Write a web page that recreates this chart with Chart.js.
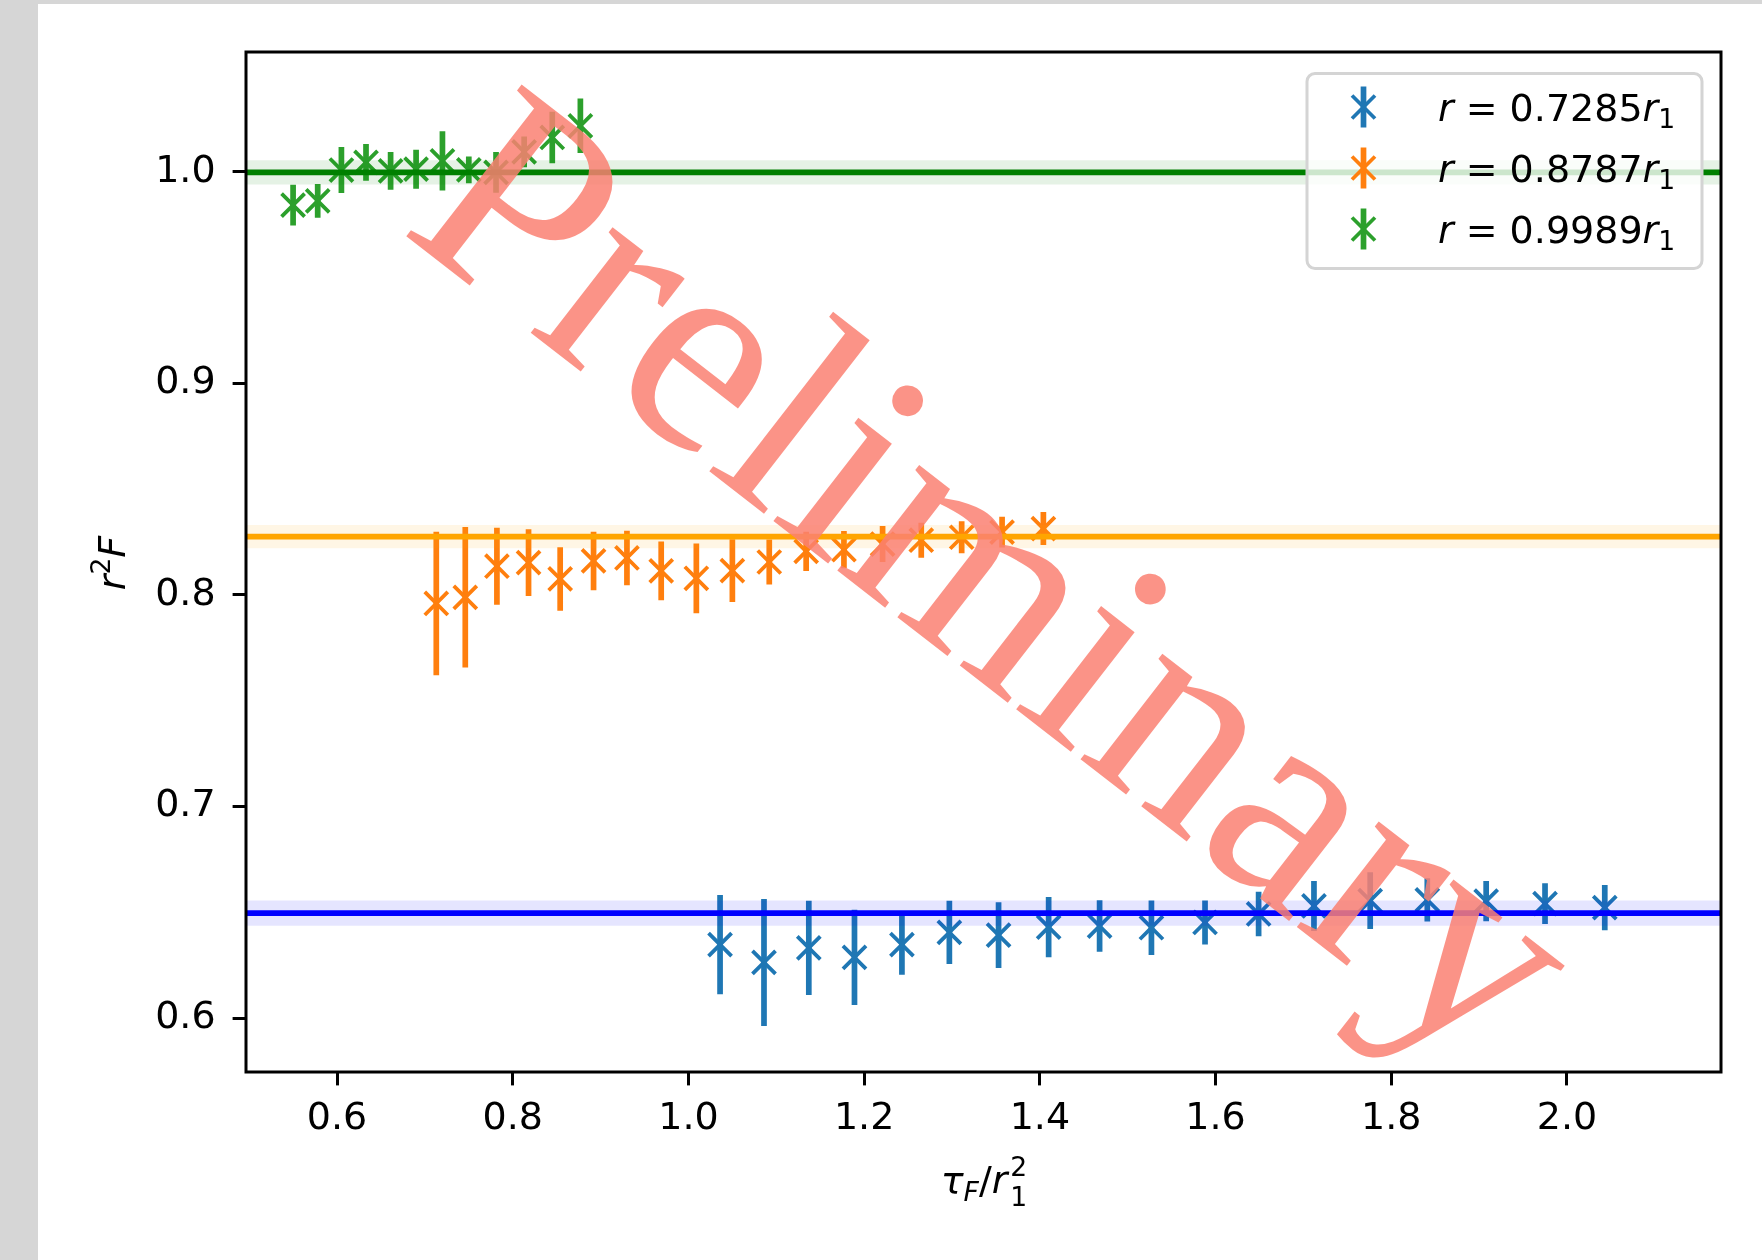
<!DOCTYPE html>
<html>
<head>
<meta charset="utf-8">
<script src="https://cdn.jsdelivr.net/npm/chart.js@4.4.1/dist/chart.umd.min.js"></script>
<style>
  html, body { margin: 0; padding: 0; background: #d6d6d6; }
  #wrap { position: relative; width: 1762px; height: 1260px; overflow: hidden; }
  #paper { position: absolute; left: 38px; top: 4px; right: 0; bottom: 0; background: #ffffff; }
  #c { position: absolute; left: 0; top: 0; }
  #ov { position: absolute; left: 0; top: 0; pointer-events: none; }
  text { font-family: "DejaVu Sans", sans-serif; }
</style>
</head>
<body>
<div id="wrap">
  <div id="paper"></div>
  <canvas id="c" width="1762" height="1260"></canvas>
  <svg id="ov" width="1762" height="1260" xmlns="http://www.w3.org/2000/svg"></svg>
</div>
<script>
// ---------------- data ----------------
const xLimits = [0.4964, 2.1753];
const yLimits = [0.5745, 1.0567];
const xTicks = [0.6, 0.8, 1.0, 1.2, 1.4, 1.6, 1.8, 2.0];
const yTicks = [0.6, 0.7, 0.8, 0.9, 1.0];

const seriesRadii = ['0.7285', '0.8787', '0.9989'];
const seriesColors = ['#1f77b4', '#ff7f0e', '#2ca02c'];

const blueX = [1.036, 1.086, 1.137, 1.189, 1.243, 1.297, 1.353, 1.410, 1.468, 1.527, 1.588, 1.649, 1.712, 1.776, 1.841, 1.908, 1.975, 2.043];
const blueY = [0.6347, 0.6263, 0.6332, 0.6287, 0.6347, 0.6405, 0.6392, 0.6430, 0.6435, 0.6427, 0.6452, 0.6492, 0.6530, 0.6555, 0.6559, 0.6553, 0.6541, 0.6522];
const blueErr = [0.0235, 0.0300, 0.0223, 0.0225, 0.0142, 0.0150, 0.0155, 0.0142, 0.0122, 0.0129, 0.0104, 0.0105, 0.0118, 0.0134, 0.0102, 0.0095, 0.0096, 0.0107];

const orangeX = [0.713, 0.746, 0.782, 0.818, 0.854, 0.892, 0.930, 0.969, 1.009, 1.050, 1.092, 1.134, 1.177, 1.221, 1.265, 1.311, 1.357, 1.404];
const orangeY = [0.7960, 0.7989, 0.8136, 0.8153, 0.8076, 0.8161, 0.8175, 0.8114, 0.8079, 0.8115, 0.8156, 0.8206, 0.8214, 0.8241, 0.8259, 0.8273, 0.8297, 0.8314];
const orangeErr = [0.0339, 0.0332, 0.0182, 0.0158, 0.0150, 0.0138, 0.0129, 0.0139, 0.0165, 0.0148, 0.0106, 0.0093, 0.0088, 0.0085, 0.0083, 0.0076, 0.0073, 0.0078];

const greenX = [0.550, 0.578, 0.605, 0.633, 0.661, 0.690, 0.720, 0.750, 0.781, 0.813, 0.845, 0.877];
const greenY = [0.9843, 0.9863, 1.0009, 1.0045, 1.0005, 1.0013, 1.0052, 1.0010, 0.9998, 1.0095, 1.0163, 1.0218];
const greenErr = [0.0096, 0.0080, 0.0109, 0.0087, 0.0089, 0.0092, 0.0140, 0.0063, 0.0096, 0.0073, 0.0122, 0.0129];

const fitValues = [0.6496, 0.8276, 0.9998];
const fitErrors = [0.0060, 0.0055, 0.0057];
const fitColors = ['#0000ff', '#ffa500', '#008000'];
const fitBandColors = ['rgba(0,0,255,0.1)', 'rgba(255,165,0,0.1)', 'rgba(0,128,0,0.1)'];

const watermarkText = 'Preliminary';

// ---------------- build datasets ----------------
const toPts = (xs, ys) => xs.map((x, i) => ({ x: x, y: ys[i] }));
const pointSets = [
  { xs: blueX, ys: blueY, es: blueErr },
  { xs: orangeX, ys: orangeY, es: orangeErr },
  { xs: greenX, ys: greenY, es: greenErr }
];

const datasets = [];
pointSets.forEach((s, k) => {
  datasets.push({
    type: 'scatter',
    label: 'r = ' + seriesRadii[k] + 'r1',
    data: toPts(s.xs, s.ys),
    errors: s.es,
    borderColor: seriesColors[k],
    backgroundColor: seriesColors[k],
    pointStyle: 'crossRot',
    pointRadius: 16.3,
    pointHoverRadius: 16.3,
    pointBorderWidth: 3.8,
    showLine: false,
    order: 10 - k
  });
});
fitValues.forEach((v, k) => {
  datasets.push({
    type: 'line',
    data: [{ x: xLimits[0], y: v - fitErrors[k] }, { x: xLimits[1], y: v - fitErrors[k] }],
    borderWidth: 0, borderColor: 'rgba(0,0,0,0)', pointRadius: 0, fill: false, order: 5
  });
  datasets.push({
    type: 'line',
    data: [{ x: xLimits[0], y: v + fitErrors[k] }, { x: xLimits[1], y: v + fitErrors[k] }],
    borderWidth: 0, borderColor: 'rgba(0,0,0,0)', pointRadius: 0,
    fill: '-1', backgroundColor: fitBandColors[k], order: 5
  });
});
fitValues.forEach((v, k) => {
  datasets.push({
    type: 'line',
    data: [{ x: xLimits[0], y: v }, { x: xLimits[1], y: v }],
    borderWidth: 5.7, borderColor: fitColors[k], pointRadius: 0, fill: false, order: 1,
    borderCapStyle: 'butt'
  });
});

// ---------------- plugins ----------------
const errorBarPlugin = {
  id: 'errorBars',
  beforeDatasetDraw(chart, args) {
    const ds = chart.data.datasets[args.index];
    if (!ds.errors) return;
    const xs = chart.scales.x, ys = chart.scales.y, ctx = chart.ctx, a = chart.chartArea;
    ctx.save();
    ctx.beginPath();
    ctx.rect(a.left, a.top, a.right - a.left, a.bottom - a.top);
    ctx.clip();
    ctx.strokeStyle = ds.borderColor;
    ctx.lineWidth = 5.7;
    ctx.lineCap = 'butt';
    ctx.beginPath();
    ds.data.forEach((p, i) => {
      const px = xs.getPixelForValue(p.x);
      ctx.moveTo(px, ys.getPixelForValue(p.y - ds.errors[i]));
      ctx.lineTo(px, ys.getPixelForValue(p.y + ds.errors[i]));
    });
    ctx.stroke();
    ctx.restore();
  }
};
const framePlugin = {
  id: 'frame',
  afterDatasetsDraw(chart) {
    const a = chart.chartArea, ctx = chart.ctx;
    ctx.save();
    ctx.strokeStyle = '#000';
    ctx.lineWidth = 3;
    ctx.strokeRect(a.left, a.top, a.right - a.left, a.bottom - a.top);
    ctx.restore();
  }
};

Chart.defaults.font.family = '"DejaVu Sans", sans-serif';

const chart = new Chart(document.getElementById('c'), {
  type: 'scatter',
  data: { datasets: datasets },
  options: {
    responsive: false,
    animation: false,
    devicePixelRatio: 1,
    events: [],
    layout: { padding: { left: 38, top: 52, right: 41, bottom: 0 } },
    plugins: { legend: { display: false }, tooltip: { enabled: false } },
    scales: {
      x: {
        type: 'linear', min: xLimits[0], max: xLimits[1],
        afterBuildTicks: s => { s.ticks = xTicks.map(v => ({ value: v })); },
        afterFit: s => { s.height = 1260 - 1072; },
        ticks: { color: '#000', font: { size: 38 }, padding: 11, maxRotation: 0, autoSkip: false,
                 callback: v => Number(v).toFixed(1) },
        grid: { display: true, drawOnChartArea: false, drawTicks: true, tickLength: 13.4, tickWidth: 3, color: '#000' },
        border: { display: false }
      },
      y: {
        type: 'linear', min: yLimits[0], max: yLimits[1],
        afterBuildTicks: s => { s.ticks = yTicks.map(v => ({ value: v })); },
        afterFit: s => { s.width = 246 - 38; },
        ticks: { color: '#000', font: { size: 38 }, padding: 17, autoSkip: false,
                 callback: v => Number(v).toFixed(1) },
        grid: { display: true, drawOnChartArea: false, drawTicks: true, tickLength: 13.4, tickWidth: 3, color: '#000' },
        border: { display: false }
      }
    }
  },
  plugins: [errorBarPlugin, framePlugin]
});

// ---------------- SVG overlay: axis titles, legend, watermark ----------------
const NS = 'http://www.w3.org/2000/svg';
const ov = document.getElementById('ov');
function el(tag, attrs, parent) {
  const e = document.createElementNS(NS, tag);
  for (const k in attrs) e.setAttribute(k, attrs[k]);
  (parent || ov).appendChild(e);
  return e;
}
function tspan(parent, txt, attrs) {
  const t = el('tspan', attrs || {}, parent);
  t.textContent = txt;
  return t;
}

// x axis title: tau_F / r_1^2
const xt = el('text', { x: 984, y: 1193, 'text-anchor': 'middle', 'font-size': 38, fill: '#000' });
tspan(xt, 'τ', { 'font-style': 'italic' });
tspan(xt, 'F', { 'font-style': 'italic', 'font-size': 26.6, dy: 8.4 });
tspan(xt, '/', { dy: -8.4 });
tspan(xt, 'r', { 'font-style': 'italic' });
tspan(xt, '1', { 'font-size': 26.6, dy: 12.7, dx: 3 });
tspan(xt, '2', { 'font-size': 26.6, dx: -16.9, dy: -29.3 });

// y axis title: r^2 F
const yt = el('text', { transform: 'translate(125,563) rotate(-90)', 'text-anchor': 'middle', 'font-size': 38, fill: '#000' });
tspan(yt, 'r', { 'font-style': 'italic' });
tspan(yt, '2', { 'font-size': 26.6, dy: -15 });
tspan(yt, 'F', { 'font-style': 'italic', dy: 15 });

// legend
const lg = el('g', {});
el('rect', { x: 1307, y: 73.5, width: 395, height: 195, rx: 8, ry: 8,
             fill: 'rgba(255,255,255,0.8)', stroke: '#d4d4d4', 'stroke-width': 3 }, lg);
const rowY = [107, 168, 229];
seriesRadii.forEach((r, k) => {
  const cx = 1363.5, cy = rowY[k], c = seriesColors[k];
  el('line', { x1: cx, y1: cy - 20.5, x2: cx, y2: cy + 20.5, stroke: c, 'stroke-width': 5.7 }, lg);
  el('line', { x1: cx - 11.5, y1: cy - 11.5, x2: cx + 11.5, y2: cy + 11.5, stroke: c, 'stroke-width': 3.8 }, lg);
  el('line', { x1: cx - 11.5, y1: cy + 11.5, x2: cx + 11.5, y2: cy - 11.5, stroke: c, 'stroke-width': 3.8 }, lg);
  const t = el('text', { x: 1438, y: cy + 13.7, 'font-size': 38, fill: '#000' }, lg);
  tspan(t, 'r', { 'font-style': 'italic' });
  tspan(t, ' = ' + r);
  tspan(t, 'r', { 'font-style': 'italic' });
  tspan(t, '1', { 'font-size': 26.6, dy: 7 });
});

// watermark
const wm = el('text', { x: 0, y: 0, transform: 'translate(941,651) rotate(37.8)', 'text-anchor': 'middle',
  'font-size': 291, fill: 'rgb(250,128,114)', 'fill-opacity': 0.85 });
wm.setAttribute('style', 'font-family: "Liberation Serif", "Times New Roman", serif;');
wm.textContent = watermarkText;
</script>
</body>
</html>
